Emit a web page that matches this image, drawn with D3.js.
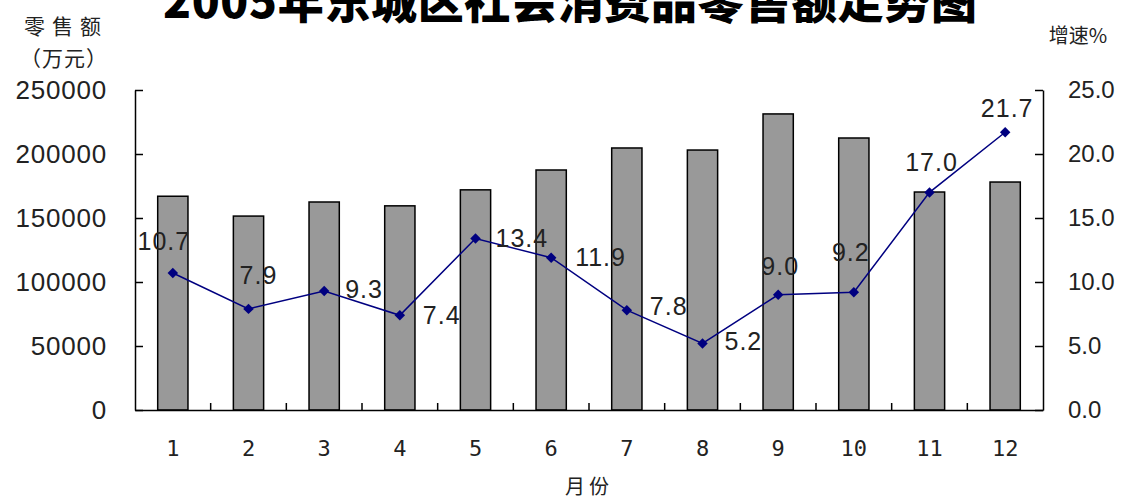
<!DOCTYPE html>
<html>
<head>
<meta charset="utf-8">
<script src="https://cdn.jsdelivr.net/npm/d3@7"></script>
<style>
  body { margin: 0; background: #fff; }
  svg { display: block; }
  .axis path, .axis line { stroke: #000; stroke-width: 1.5; }
  .axis text { fill: #222; }
</style>
</head>
<body>
<svg width="1128" height="501"></svg>
<script>
// chart data
let months = ["1", "2", "3", "4", "5", "6", "7", "8", "9", "10", "11", "12"];
let retailSales = [167000, 151500, 162500, 159500, 172000, 187500, 204700, 203100, 231300, 212500, 170300, 178100];
let growthRate = [10.7, 7.9, 9.3, 7.4, 13.4, 11.9, 7.8, 5.2, 9.0, 9.2, 17.0, 21.7];
let leftTicks = [0, 50000, 100000, 150000, 200000, 250000];
let rightTicks = [0, 5, 10, 15, 20, 25];

let svg = d3.select('svg');
let plotLeft = 135, plotRight = 1043, plotTop = 90, plotBottom = 410;

let x = d3.scaleBand()
  .domain(months)
  .range([plotLeft, plotRight])
  .paddingInner(0.6)
  .paddingOuter(0.3);

let yL = d3.scaleLinear().domain([0, 250000]).range([plotBottom, plotTop]);
let yR = d3.scaleLinear().domain([0, 25]).range([plotBottom, plotTop]);

// bars
svg.selectAll('rect.bar')
  .data(months)
  .enter()
  .append('rect')
  .attr('class', 'bar')
  .attr('x', d => x(d))
  .attr('y', (d, i) => yL(retailSales[i]))
  .attr('width', x.bandwidth())
  .attr('height', (d, i) => plotBottom - yL(retailSales[i]))
  .attr('fill', '#999999')
  .attr('stroke', '#000')
  .attr('stroke-width', 1.5);

// left axis
svg.append('g')
  .attr('class', 'axis')
  .attr('transform', `translate(${plotLeft},0)`)
  .call(d3.axisLeft(yL).tickValues(leftTicks).tickFormat(d3.format('d'))
    .tickSizeInner(-8).tickSizeOuter(0).tickPadding(28))
  .call(g => g.selectAll('text')
    .style('font-family', 'Liberation Sans, Arial, sans-serif')
    .style('font-size', '26px')
    .style('letter-spacing', '0.8px'));

// right axis
svg.append('g')
  .attr('class', 'axis')
  .attr('transform', `translate(${plotRight},0)`)
  .call(d3.axisRight(yR).tickValues(rightTicks).tickFormat(d3.format('.1f'))
    .tickSizeInner(-8).tickSizeOuter(0).tickPadding(25))
  .call(g => g.selectAll('text')
    .style('font-family', 'Liberation Sans, Arial, sans-serif')
    .style('font-size', '24px'));

// bottom axis
let xAxis = svg.append('g')
  .attr('class', 'axis')
  .attr('transform', `translate(0,${plotBottom})`)
  .call(d3.axisBottom(x).tickSize(0).tickPadding(30))
  .call(g => g.selectAll('text')
    .style('font-family', 'DejaVu Sans Mono, monospace')
    .style('font-size', '22px'));

// category separators
let gap = (x.step() - x.bandwidth()) / 2;
xAxis.selectAll('line.sep')
  .data(months.slice(1))
  .enter()
  .append('line')
  .attr('class', 'sep')
  .attr('x1', d => x(d) - gap)
  .attr('x2', d => x(d) - gap)
  .attr('y1', 0)
  .attr('y2', -7);

// growth line
let cx = d => x(d) + x.bandwidth() / 2;
let line = d3.line()
  .x((d, i) => cx(months[i]))
  .y(d => yR(d));

svg.append('path')
  .datum(growthRate)
  .attr('d', line)
  .attr('fill', 'none')
  .attr('stroke', '#000080')
  .attr('stroke-width', 1.5);

svg.selectAll('path.marker')
  .data(growthRate)
  .enter()
  .append('path')
  .attr('class', 'marker')
  .attr('d', d3.symbol().type(d3.symbolDiamond2).size(70))
  .attr('transform', (d, i) => `translate(${cx(months[i])},${yR(d)})`)
  .attr('fill', '#000080');

// data labels: [dx, dy, anchor]
let labelPos = [
  [-9, -32, 'middle'], [10, -34, 'middle'], [21, -2, 'start'], [23, 0, 'start'],
  [20, 0, 'start'], [24, 0, 'start'], [23, -4, 'start'], [22, -2, 'start'],
  [2, -29, 'middle'], [-3, -40, 'middle'], [2, -30, 'middle'], [2, -24, 'middle']
];

svg.selectAll('text.lbl')
  .data(growthRate)
  .enter()
  .append('text')
  .attr('class', 'lbl')
  .attr('x', (d, i) => cx(months[i]) + labelPos[i][0])
  .attr('y', (d, i) => yR(d) + labelPos[i][1])
  .attr('dy', '0.35em')
  .attr('text-anchor', (d, i) => labelPos[i][2])
  .style('font-family', 'Liberation Sans, Arial, sans-serif')
  .style('font-size', '25px')
  .style('letter-spacing', '1px')
  .attr('fill', '#222')
  .text(d => d.toFixed(1));

// title (top edge is clipped in the original too)
svg.append('text')
  .attr('x', 163)
  .attr('y', 18)
  .attr('textLength', 814)
  .attr('lengthAdjust', 'spacing')
  .style('font-family', 'Noto Sans CJK SC, sans-serif')
  .style('font-weight', 900)
  .style('font-size', '46px')
  .text('2005年东城区社会消费品零售额走势图');

// axis titles
let cjk = 'Noto Sans CJK SC, sans-serif';
svg.append('text')
  .attr('x', 66).attr('y', 27).attr('dy', '0.35em')
  .attr('text-anchor', 'middle')
  .style('font-family', cjk).style('font-size', '21px').style('letter-spacing', '7px')
  .attr('fill', '#222')
  .text('零售额');

svg.append('text')
  .attr('x', 64).attr('y', 59).attr('dy', '0.35em')
  .attr('text-anchor', 'middle')
  .style('font-family', cjk).style('font-size', '21px').style('letter-spacing', '1px')
  .attr('fill', '#222')
  .text('（万元）');

svg.append('text')
  .attr('x', 1078).attr('y', 36).attr('dy', '0.35em')
  .attr('text-anchor', 'middle')
  .style('font-family', cjk).style('font-size', '20px')
  .attr('fill', '#222')
  .text('增速%');

svg.append('text')
  .attr('x', (plotLeft + plotRight) / 2).attr('y', 487).attr('dy', '0.35em')
  .attr('text-anchor', 'middle')
  .style('font-family', cjk).style('font-size', '20px').style('letter-spacing', '4px')
  .attr('fill', '#222')
  .text('月份');
</script>
</body>
</html>
